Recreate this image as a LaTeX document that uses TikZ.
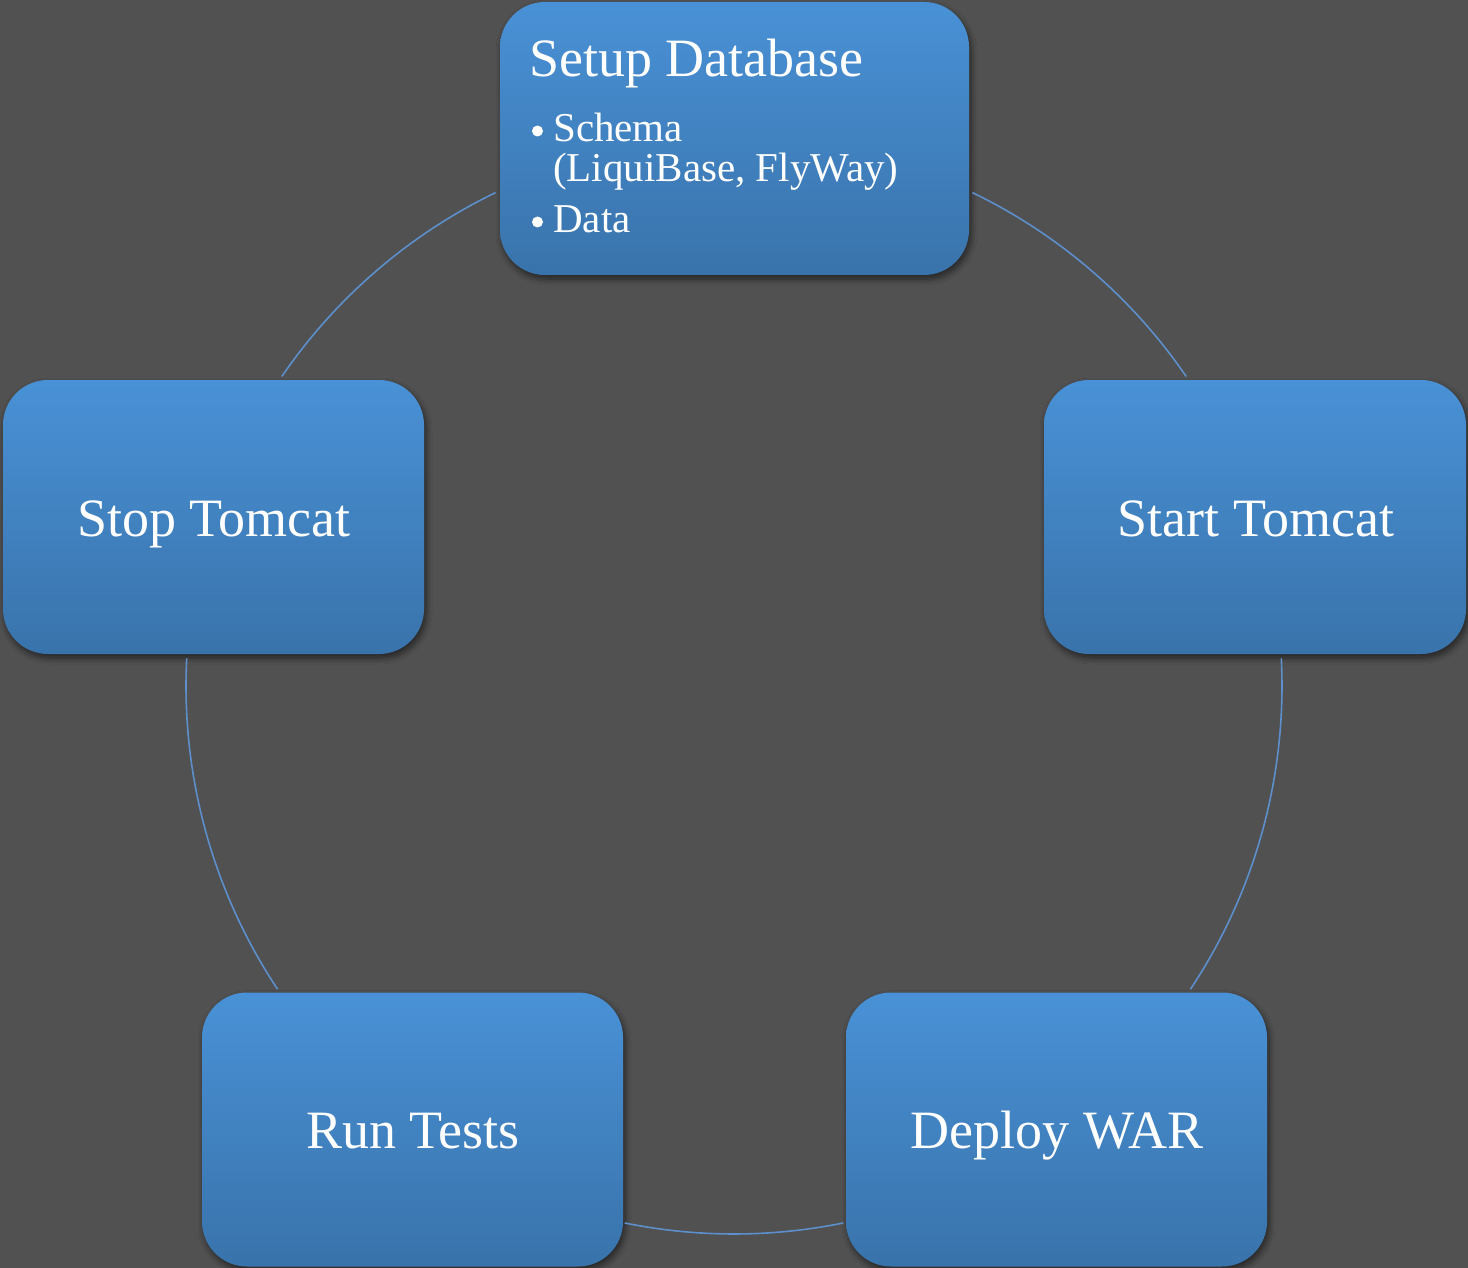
\documentclass[tikz,border=0pt]{standalone}
\usepackage{fontspec}
\setmainfont{Liberation Serif}
\usetikzlibrary{shadows.blur}
\definecolor{bg}{RGB}{81,81,81}
\definecolor{boxtop}{RGB}{73,145,214}
\definecolor{boxbot}{RGB}{57,115,171}
\definecolor{arcc}{RGB}{92,143,203}
\tikzset{
  stepbox/.style={rectangle, rounded corners=45pt, top color=boxtop, bottom color=boxbot,
    draw=none, inner sep=0pt,
    blur shadow={shadow xshift=2pt, shadow yshift=-4pt, shadow blur steps=8, shadow blur radius=6pt, shadow opacity=55}},
  bigtxt/.style={text=white, font=\fontsize{54}{60}\selectfont, inner sep=0pt},
  smalltxt/.style={text=white, font=\fontsize{41}{46}\selectfont, inner sep=0pt},
  link/.style={draw=arcc, line width=1.6pt}
}
\begin{document}
\begin{tikzpicture}[x=1pt,y=1pt]
\fill[bg] (0,0) rectangle (1468,-1268);
\useasboundingbox (0,0) rectangle (1468,-1268);
\coordinate (C) at (734,-686);
% boxes
\node[stepbox, minimum width=469pt, minimum height=273pt] (db) at (734.5,-138.5) {};
\node[stepbox, minimum width=422pt, minimum height=274pt] (start) at (1255,-517) {};
\node[stepbox, minimum width=421pt, minimum height=274pt] (deploy) at (1056.5,-1129.5) {};
\node[stepbox, minimum width=421pt, minimum height=274pt] (run) at (412.5,-1129.5) {};
\node[stepbox, minimum width=421pt, minimum height=274pt] (stop) at (213.5,-517) {};
% connectors (circle arcs between boxes)
\draw[link] (C) ++(64.2:548pt) arc[start angle=64.2, end angle=34.4, radius=548pt];
\draw[link] (C) ++(2.9:548pt) arc[start angle=2.9, end angle=-33.6, radius=548pt];
\draw[link] (C) ++(-78.5:548pt) arc[start angle=-78.5, end angle=-101.5, radius=548pt];
\draw[link] (C) ++(-146.4:548pt) arc[start angle=-146.4, end angle=-182.9, radius=548pt];
\draw[link] (C) ++(145.6:548pt) arc[start angle=145.6, end angle=115.8, radius=548pt];
% texts
\node[bigtxt, anchor=base west] (dbt) at (529,-77) {Setup Database};
\node[smalltxt, anchor=base west] (s1) at (553,-142) {Schema};
\node[smalltxt, anchor=base west] (s2) at (553,-182) {(LiquiBase, FlyWay)};
\node[smalltxt, anchor=base west] (s3) at (553,-233) {Data};
\fill[white] (537.5,-131) circle (5.5pt);
\fill[white] (537.5,-222) circle (5.5pt);
\node[bigtxt, anchor=base] (startt) at (1256,-536) {Start Tomcat};
\node[bigtxt, anchor=base] (deployt) at (1057,-1148) {Deploy WAR};
\node[bigtxt, anchor=base] (runt) at (413,-1148) {Run Tests};
\node[bigtxt, anchor=base] (stopt) at (214,-536) {Stop Tomcat};
\end{tikzpicture}
\end{document}
